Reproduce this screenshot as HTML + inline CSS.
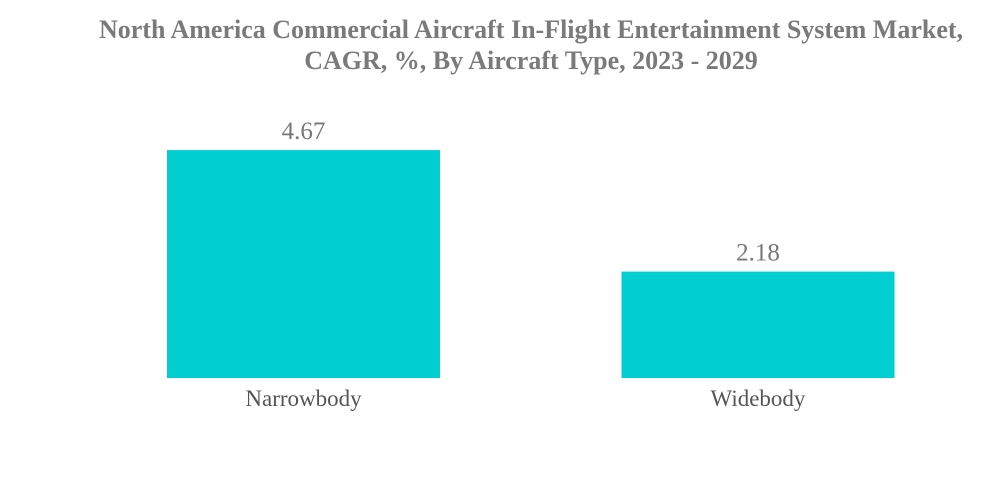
<!DOCTYPE html>
<html><head><meta charset="utf-8"><style>
body{margin:0;background:#fff;}
svg{display:block;}
</style></head><body>
<svg id="chart" width="1000" height="483">
<text x="531" y="38" text-anchor="middle" font-family="Liberation Serif, serif" font-weight="bold" font-size="26" fill="#7a7a7a">North America Commercial Aircraft In-Flight Entertainment System Market,</text>
<text x="531" y="69" text-anchor="middle" font-family="Liberation Serif, serif" font-weight="bold" font-size="26" fill="#7a7a7a">CAGR, %, By Aircraft Type, 2023 - 2029</text>
<g id="bars"></g>
</svg>
<script>
const categories = ["Narrowbody", "Widebody"];
const values = [4.67, 2.18];
const valueLabels = ["4.67", "2.18"];

const baseY = 378, pxPerUnit = 48.8;
const centers = [303.5, 758];
const barW = 273;
const y = v => baseY - v * pxPerUnit;
const g = document.getElementById('bars');
const ns = 'http://www.w3.org/2000/svg';
categories.forEach((c, i) => {
  const r = document.createElementNS(ns, 'rect');
  r.setAttribute('x', centers[i] - barW / 2);
  r.setAttribute('y', y(values[i]));
  r.setAttribute('width', barW);
  r.setAttribute('height', baseY - y(values[i]));
  r.setAttribute('fill', '#00ced1');
  
  
  g.appendChild(r);
  const t = document.createElementNS(ns, 'text');
  t.setAttribute('x', centers[i]);
  t.setAttribute('y', y(values[i]) - 11);
  t.setAttribute('text-anchor', 'middle');
  t.setAttribute('font-family', 'Liberation Serif, serif');
  t.setAttribute('font-size', '25');
  t.setAttribute('fill', '#777');
  t.textContent = valueLabels[i];
  
  
  g.appendChild(t);
  const l = document.createElementNS(ns, 'text');
  l.setAttribute('x', centers[i]);
  l.setAttribute('y', 406);
  l.setAttribute('text-anchor', 'middle');
  l.setAttribute('font-family', 'Liberation Serif, serif');
  l.setAttribute('font-size', '23');
  l.setAttribute('fill', '#555');
  l.textContent = c;
  
  
  g.appendChild(l);
});
</script>
</body></html>
